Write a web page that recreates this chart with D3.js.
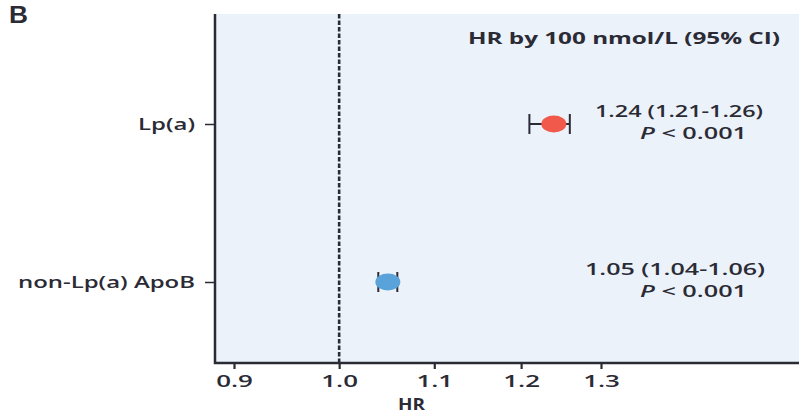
<!DOCTYPE html>
<html>
<head>
<meta charset="utf-8">
<script src="https://cdn.jsdelivr.net/npm/d3@7"></script>
<style>
  html, body { margin: 0; padding: 0; background: #fff; }
  svg { display: block; font-family: "Open Sans", "Noto Sans", sans-serif; }
</style>
</head>
<body>
<svg id="chart" width="800" height="419"></svg>
<script>
// Hazard ratios per 100 nmol/L with 95% confidence intervals
const categories = ["Lp(a)", "non-Lp(a) ApoB"];
const hr = [1.24, 1.05];
const ciLow = [1.21, 1.04];
const ciHigh = [1.26, 1.06];
const hrLabels = ["1.24 (1.21-1.26)", "1.05 (1.04-1.06)"];
const pLabels = ["< 0.001", "< 0.001"];
const xTicks = [0.9, 1.0, 1.1, 1.2, 1.3];
const xTickLabels = ["0.9", "1.0", "1.1", "1.2", "1.3"];
const colors = ["#f15a4a", "#5aa2da"];

const svg = d3.select("#chart");
const ink = "#2b2b36";
const fontSize = 16;
const plot = { left: 215, right: 799, top: 14, bottom: 363 };

// Log-scaled HR axis; the panel extends beyond the labelled ticks
const x = d3.scaleLog().domain([0.9, 1.3]).range([234, 601]);
const y = d3.scalePoint().domain(categories).range([124, 282]);

// Wide-set text fitted to a given run length
function label(px, py, anchor, len, weight) {
  return svg.append("text")
    .attr("x", px).attr("y", py)
    .attr("text-anchor", anchor)
    .attr("textLength", len)
    .attr("lengthAdjust", "spacingAndGlyphs")
    .attr("font-size", fontSize)
    .attr("font-weight", weight)
    .attr("fill", ink);
}

// Panel background
svg.append("rect")
  .attr("x", plot.left).attr("y", plot.top)
  .attr("width", plot.right - plot.left).attr("height", plot.bottom - plot.top)
  .attr("fill", "#ecf2fa");

// Reference line at HR = 1
svg.append("line")
  .attr("x1", x(1)).attr("x2", x(1))
  .attr("y1", plot.top).attr("y2", plot.bottom)
  .attr("stroke", ink).attr("stroke-width", 2.6)
  .attr("stroke-dasharray", "4.5,2");

// Bottom axis
const xAxis = d3.axisBottom(x)
  .tickValues(xTicks)
  .tickFormat((d, i) => xTickLabels[i])
  .tickSize(6);
const gx = svg.append("g").attr("transform", `translate(0,${plot.bottom})`).call(xAxis);
gx.select(".domain").remove();
gx.selectAll(".tick line").attr("stroke", ink).attr("stroke-width", 2.2);
gx.selectAll(".tick text")
  .attr("y", null).attr("dy", null)
  .attr("transform", "translate(0,24) scale(1.62,1)")
  .attr("fill", ink).attr("font-size", fontSize).attr("font-weight", 600)
  .attr("font-family", "'Open Sans', sans-serif");

// Left axis
const yLabelLen = [57, 177];
const yAxis = d3.axisLeft(y).tickSize(10);
const gy = svg.append("g").attr("transform", `translate(${plot.left},0)`).call(yAxis);
gy.select(".domain").remove();
gy.selectAll(".tick line").attr("stroke", ink).attr("stroke-width", 1.5);
gy.selectAll(".tick text")
  .attr("x", -20).attr("dy", null).attr("y", 5.5)
  .attr("textLength", (d, i) => yLabelLen[i])
  .attr("lengthAdjust", "spacingAndGlyphs")
  .attr("fill", ink).attr("font-size", fontSize).attr("font-weight", 600)
  .attr("font-family", "'Open Sans', sans-serif");

// Panel frame (left and bottom)
svg.append("path")
  .attr("d", `M${plot.left},${plot.top}V${plot.bottom}H${plot.right}`)
  .attr("fill", "none").attr("stroke", ink).attr("stroke-width", 2.5);

// Confidence intervals with end caps
const rows = categories.map((c, i) => ({ c, i }));
const ci = svg.append("g").attr("stroke", ink).attr("stroke-width", 2);
rows.forEach(({ c, i }) => {
  const yy = y(c);
  ci.append("line").attr("x1", x(ciLow[i])).attr("x2", x(ciHigh[i])).attr("y1", yy).attr("y2", yy);
  [ciLow[i], ciHigh[i]].forEach(v => {
    ci.append("line").attr("x1", x(v)).attr("x2", x(v)).attr("y1", yy - 10).attr("y2", yy + 10);
  });
});

// Point estimates
svg.append("g").selectAll("ellipse").data(rows).join("ellipse")
  .attr("cx", d => x(hr[d.i])).attr("cy", d => y(d.c))
  .attr("rx", 12.5).attr("ry", 8.5)
  .attr("fill", d => colors[d.i]);

// Column header
label(468, 44, "start", 312, 700).text("HR by 100 nmol/L (95% CI)");

// Estimate annotations
const estX = [595, 585];
const estLen = [168, 180];
rows.forEach(({ c, i }) => {
  const yy = y(c);
  label(estX[i], yy - 7, "start", estLen[i], 600).text(hrLabels[i]);
  const t = label(640, yy + 15, "start", 107, 600);
  t.append("tspan").attr("font-style", "italic").text("P");
  t.append("tspan").text(" " + pLabels[i]);
});

// Axis title
label(398, 410, "start", 27, 700).text("HR");

// Panel letter
label(9, 22.5, "start", 19, 700)
  .attr("font-size", 23)
  .attr("font-family", "'Liberation Sans', sans-serif")
  .text("B");
</script>
</body>
</html>
